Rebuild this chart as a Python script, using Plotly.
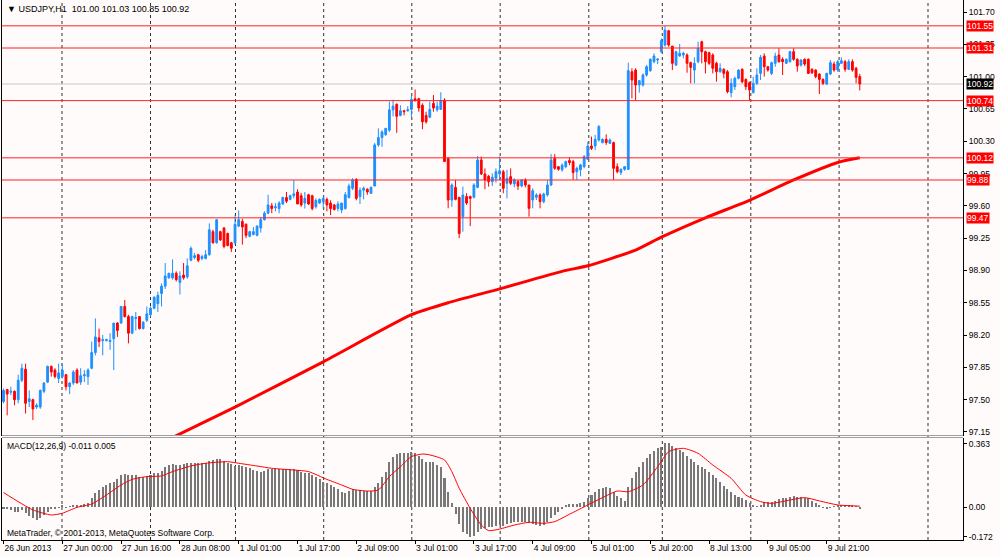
import plotly.graph_objects as go

# ---------------- DATA ----------------
opens = [
97.48, 97.61, 97.58, 97.59, 97.50, 97.71, 97.83, 97.48, 97.50, 97.42,
97.42, 97.59, 97.69, 97.86, 97.82, 97.73, 97.75, 97.77, 97.64, 97.68,
97.82, 97.69, 97.76, 97.75, 97.84, 98.01, 98.17, 98.14, 98.14, 98.13,
98.16, 98.33, 98.33, 98.51, 98.40, 98.22, 98.38, 98.40, 98.27, 98.36,
98.42, 98.49, 98.54, 98.65, 98.73, 98.82, 98.82, 98.87, 98.77, 98.85,
98.83, 99.01, 99.04, 99.07, 99.03, 99.03, 99.07, 99.32, 99.20, 99.32,
99.36, 99.30, 99.20, 99.20, 99.38, 99.43, 99.40, 99.27, 99.29, 99.28,
99.36, 99.45, 99.52, 99.60, 99.58, 99.57, 99.62, 99.69, 99.67, 99.71,
99.75, 99.71, 99.63, 99.72, 99.71, 99.59, 99.63, 99.645, 99.67, 99.63,
99.61, 99.57, 99.555, 99.57, 99.69, 99.79, 99.885, 99.70, 99.77, 99.78,
99.735, 99.815, 100.26, 100.34, 100.37, 100.42, 100.64, 100.70, 100.58, 100.63,
100.63, 100.645, 100.76, 100.76, 100.69, 100.58, 100.56, 100.71, 100.64, 100.645,
100.746, 100.115, 99.663, 99.80, 99.69, 99.483, 99.70, 99.70, 99.692, 99.80,
100.097, 99.945, 99.92, 99.862, 99.898, 99.945, 99.97, 99.844, 99.916, 99.837,
99.862, 99.815, 99.88, 99.826, 99.663, 99.692, 99.718, 99.645, 99.718, 99.826,
100.115, 100.024, 99.99, 100.024, 100.09, 100.079, 99.97, 99.99, 100.024, 100.104,
100.248, 100.248, 100.313, 100.285, 100.32, 100.277, 100.285, 100.024, 99.96, 99.996,
99.995, 101.053, 101.071, 100.909, 100.909, 101.017, 101.064, 101.162, 101.18, 101.27,
101.342, 101.497, 101.331, 101.126, 101.223, 101.234, 101.234, 101.151, 101.071, 101.162,
101.378, 101.27, 101.259, 101.234, 101.144, 101.053, 101.079, 101.053, 100.826, 100.891,
100.981, 101.079, 100.97, 100.934, 100.826, 100.927, 101.035, 101.223, 101.107, 101.035,
101.144, 101.234, 101.187, 101.144, 101.162, 101.27, 101.187, 101.126, 101.187, 101.187,
101.079, 101.071, 101.028, 100.97, 100.92, 101.028, 101.136, 101.071, 101.144, 101.162,
101.079, 101.162, 101.09, 101.00]

highs = [
97.62, 97.61, 97.64, 97.60, 97.77, 97.89, 97.89, 97.60, 97.51, 97.46,
97.61, 97.69, 97.87, 97.87, 97.84, 97.89, 97.89, 97.78, 97.69, 97.82,
97.84, 97.84, 97.82, 97.84, 98.13, 98.38, 98.27, 98.20, 98.16, 98.22,
98.33, 98.34, 98.51, 98.58, 98.42, 98.41, 98.45, 98.40, 98.35, 98.51,
98.51, 98.62, 98.67, 98.76, 98.98, 98.87, 99.02, 98.89, 98.89, 98.98,
99.03, 99.16, 99.09, 99.08, 99.07, 99.12, 99.41, 99.34, 99.45, 99.33,
99.37, 99.31, 99.21, 99.50, 99.55, 99.46, 99.41, 99.33, 99.37, 99.39,
99.48, 99.54, 99.72, 99.63, 99.63, 99.65, 99.70, 99.75, 99.72, 99.88,
99.78, 99.74, 99.75, 99.73, 99.72, 99.68, 99.68, 99.70, 99.69, 99.66,
99.62, 99.65, 99.63, 99.75, 99.84, 99.90, 99.90, 99.80, 99.81, 99.79,
99.81, 100.28, 100.44, 100.42, 100.44, 100.73, 100.75, 100.71, 100.69, 100.64,
100.68, 100.79, 100.86, 100.77, 100.71, 100.62, 100.73, 100.80, 100.73, 100.83,
100.765, 100.12, 99.844, 99.88, 99.70, 99.808, 99.736, 99.71, 99.844, 100.14,
100.133, 100.006, 99.934, 99.952, 100.006, 100.133, 99.99, 99.99, 100.006, 99.898,
99.88, 99.887, 99.898, 99.826, 99.79, 99.736, 99.736, 99.743, 99.88, 100.16,
100.16, 100.03, 100.06, 100.09, 100.126, 100.097, 100.024, 100.054, 100.151, 100.295,
100.35, 100.368, 100.476, 100.331, 100.375, 100.331, 100.295, 100.06, 100.006, 100.032,
101.151, 101.09, 101.09, 100.963, 101.035, 101.126, 101.198, 101.252, 101.198, 101.414,
101.548, 101.505, 101.331, 101.281, 101.353, 101.27, 101.252, 101.162, 101.209, 101.378,
101.389, 101.281, 101.27, 101.252, 101.162, 101.144, 101.09, 101.071, 100.981, 101.0,
101.079, 101.09, 100.981, 100.945, 100.999, 101.09, 101.234, 101.252, 101.115, 101.162,
101.259, 101.306, 101.209, 101.198, 101.281, 101.306, 101.198, 101.187, 101.198, 101.198,
101.09, 101.079, 101.035, 100.981, 101.042, 101.18, 101.162, 101.18, 101.209, 101.18,
101.187, 101.187, 101.107, 101.03]

lows = [
97.46, 97.33, 97.55, 97.44, 97.46, 97.69, 97.35, 97.42, 97.28, 97.40,
97.40, 97.57, 97.68, 97.75, 97.73, 97.68, 97.73, 97.60, 97.56, 97.66,
97.68, 97.66, 97.69, 97.66, 97.83, 97.98, 98.07, 97.98, 98.13, 98.04,
97.82, 98.18, 98.32, 98.39, 98.11, 98.21, 98.25, 98.26, 98.26, 98.34,
98.40, 98.48, 98.45, 98.51, 98.70, 98.81, 98.80, 98.78, 98.64, 98.80,
98.81, 99.00, 99.02, 98.99, 99.01, 99.02, 99.06, 99.19, 99.19, 99.22,
99.14, 99.16, 99.10, 99.18, 99.37, 99.18, 99.25, 99.26, 99.28, 99.27,
99.31, 99.44, 99.51, 99.52, 99.54, 99.52, 99.61, 99.63, 99.66, 99.68,
99.62, 99.59, 99.57, 99.61, 99.55, 99.57, 99.62, 99.57, 99.54, 99.50,
99.55, 99.54, 99.52, 99.56, 99.68, 99.77, 99.66, 99.62, 99.67, 99.72,
99.73, 99.81, 100.24, 100.24, 100.36, 100.40, 100.57, 100.39, 100.57, 100.58,
100.62, 100.56, 100.73, 100.62, 100.43, 100.49, 100.55, 100.62, 100.62, 100.64,
100.08, 99.573, 99.59, 99.66, 99.25, 99.32, 99.61, 99.38, 99.68, 99.79,
99.934, 99.78, 99.808, 99.815, 99.851, 99.88, 99.736, 99.68, 99.826, 99.80,
99.772, 99.80, 99.80, 99.483, 99.573, 99.663, 99.573, 99.627, 99.70, 99.815,
99.99, 99.98, 99.97, 100.006, 100.04, 99.88, 99.88, 99.92, 100.006, 100.097,
100.205, 100.205, 100.295, 100.277, 100.26, 100.27, 99.88, 99.952, 99.934, 99.98,
99.988, 100.764, 100.746, 100.826, 100.891, 101.0, 101.053, 101.144, 101.136, 101.259,
101.324, 101.324, 101.071, 101.115, 101.215, 101.198, 101.042, 100.927, 100.927, 101.144,
101.144, 101.035, 101.126, 101.035, 100.945, 101.042, 100.981, 100.819, 100.775, 100.855,
100.97, 100.927, 100.855, 100.746, 100.819, 100.909, 100.963, 101.0, 101.053, 101.017,
101.107, 101.151, 101.017, 101.136, 101.151, 101.172, 101.053, 101.107, 101.115, 101.028,
101.028, 100.981, 100.811, 100.909, 100.909, 101.017, 101.053, 101.053, 101.136, 101.053,
101.071, 101.053, 100.927, 100.85]

closes = [
97.60, 97.56, 97.59, 97.50, 97.71, 97.84, 97.46, 97.51, 97.40, 97.44,
97.60, 97.68, 97.86, 97.80, 97.75, 97.79, 97.82, 97.64, 97.68, 97.80,
97.68, 97.76, 97.77, 97.82, 98.01, 98.18, 98.13, 98.15, 98.15, 98.14,
98.33, 98.25, 98.51, 98.40, 98.22, 98.40, 98.39, 98.27, 98.34, 98.43,
98.49, 98.61, 98.63, 98.73, 98.84, 98.87, 98.87, 98.80, 98.84, 98.82,
98.95, 99.14, 99.06, 99.01, 99.05, 99.07, 99.34, 99.20, 99.45, 99.23,
99.16, 99.17, 99.14, 99.40, 99.45, 99.37, 99.28, 99.32, 99.32, 99.38,
99.45, 99.52, 99.61, 99.57, 99.59, 99.63, 99.69, 99.65, 99.71, 99.73,
99.62, 99.61, 99.68, 99.62, 99.57, 99.66, 99.67, 99.68, 99.61, 99.57,
99.56, 99.62, 99.63, 99.72, 99.815, 99.88, 99.68, 99.77, 99.79, 99.75,
99.80, 100.26, 100.34, 100.40, 100.44, 100.64, 100.68, 100.57, 100.63, 100.62,
100.64, 100.75, 100.74, 100.66, 100.51, 100.51, 100.645, 100.66, 100.68, 100.74,
100.08, 99.663, 99.826, 99.67, 99.30, 99.718, 99.63, 99.68, 99.826, 100.097,
99.945, 99.88, 99.862, 99.909, 99.97, 99.98, 99.79, 99.898, 99.844, 99.88,
99.815, 99.88, 99.826, 99.573, 99.764, 99.718, 99.645, 99.728, 99.826, 100.097,
100.006, 99.996, 100.04, 100.079, 100.068, 99.96, 100.006, 100.043, 100.133, 100.248,
100.223, 100.32, 100.458, 100.32, 100.285, 100.313, 100.006, 99.97, 99.996, 100.024,
101.064, 100.963, 100.909, 100.956, 101.017, 101.107, 101.187, 101.223, 101.19, 101.389,
101.505, 101.342, 101.144, 101.27, 101.252, 101.252, 101.144, 101.10, 101.144, 101.306,
101.27, 101.162, 101.144, 101.09, 101.053, 101.09, 101.035, 100.837, 100.927, 100.981,
101.071, 100.945, 100.891, 100.855, 100.927, 101.017, 101.209, 101.107, 101.071, 101.151,
101.223, 101.162, 101.162, 101.187, 101.27, 101.187, 101.115, 101.18, 101.136, 101.035,
101.042, 100.999, 100.97, 100.927, 101.035, 101.151, 101.071, 101.162, 101.172, 101.079,
101.162, 101.071, 100.992, 100.92]

# moving average (read at a few bars)
ma_bars = [46, 63, 87, 111, 121, 135, 152, 159, 172, 179, 191, 203, 215, 227, 233]
ma_vals = [97.09, 97.42, 97.91, 98.42, 98.55, 98.70, 98.89, 98.95, 99.12, 99.26,
           99.47, 99.66, 99.88, 100.07, 100.12]

# MACD main histogram (one value per bar)
macd_hist = [
-0.008, -0.013, -0.02, -0.03, -0.027, -0.02, -0.035, -0.05, -0.065, -0.075,
-0.065, -0.046, -0.027, -0.013, -0.008, -0.002, 0.006, -0.002, 0.002, 0.006,
0.01, 0.012, 0.017, 0.025, 0.05, 0.079, 0.098, 0.117, 0.127, 0.136,
0.146, 0.159, 0.184, 0.19, 0.184, 0.184, 0.184, 0.175, 0.175, 0.179,
0.184, 0.194, 0.198, 0.209, 0.228, 0.242, 0.248, 0.242, 0.242, 0.248,
0.252, 0.255, 0.252, 0.252, 0.252, 0.255, 0.267, 0.271, 0.275, 0.275,
0.267, 0.255, 0.248, 0.236, 0.242, 0.236, 0.228, 0.223, 0.213, 0.209,
0.204, 0.209, 0.217, 0.217, 0.217, 0.217, 0.217, 0.217, 0.217, 0.217,
0.213, 0.204, 0.198, 0.194, 0.184, 0.171, 0.159, 0.146, 0.136, 0.127,
0.113, 0.102, 0.088, 0.083, 0.094, 0.102, 0.098, 0.098, 0.094, 0.094,
0.094, 0.113, 0.140, 0.175, 0.204, 0.261, 0.29, 0.305, 0.313, 0.313,
0.313, 0.319, 0.309, 0.294, 0.275, 0.261, 0.261, 0.257, 0.242, 0.232,
0.165, 0.088, 0.021, -0.042, -0.10, -0.142, -0.157, -0.171, -0.165, -0.142,
-0.127, -0.119, -0.113, -0.113, -0.108, -0.104, -0.108, -0.10, -0.094, -0.088,
-0.088, -0.088, -0.088, -0.094, -0.10, -0.104, -0.108, -0.104, -0.088, -0.065,
-0.046, -0.031, -0.012, 0.008, 0.017, 0.017, 0.017, 0.021, 0.031, 0.054,
0.069, 0.084, 0.104, 0.111, 0.117, 0.111, 0.084, 0.065, 0.05, 0.035,
0.117, 0.169, 0.204, 0.232, 0.261, 0.284, 0.303, 0.323, 0.338, 0.348,
0.367, 0.367, 0.353, 0.338, 0.328, 0.315, 0.296, 0.277, 0.257, 0.242,
0.232, 0.219, 0.204, 0.184, 0.169, 0.146, 0.123, 0.104, 0.084, 0.069,
0.06, 0.05, 0.04, 0.021, 0.012, 0.004, 0.008, 0.027, 0.031, 0.031,
0.035, 0.046, 0.05, 0.054, 0.06, 0.063, 0.06, 0.06, 0.054, 0.05,
0.035, 0.021, 0.008, -0.004, -0.008, -0.004, 0.002, 0.008, 0.012, 0.012,
0.012, 0.008, 0.002, -0.011]

# MACD signal line (read at a set of bars)
sig_bars = [0, 4, 8, 13, 16, 20, 24, 28, 32, 35, 39, 43, 46, 51, 55, 61, 64, 69, 73, 79,
            83, 88, 92, 95, 99, 102, 105, 108, 111, 114, 116, 120, 122, 124, 127, 130,
            132, 135, 139, 143, 147, 150, 154, 159, 163, 167, 170, 174, 178, 181, 185,
            189, 193, 198, 202, 206, 209, 214, 218, 222, 227, 233]
sig_vals = [0.083, 0.031, -0.017, -0.046, -0.036, -0.002, 0.017, 0.069, 0.127, 0.159,
            0.175, 0.179, 0.204, 0.236, 0.252, 0.261, 0.252, 0.236, 0.223, 0.213,
            0.204, 0.159, 0.127, 0.102, 0.092, 0.098, 0.175, 0.232, 0.29, 0.305,
            0.30, 0.271, 0.204, 0.108, -0.008, -0.104, -0.136, -0.127, -0.104, -0.088,
            -0.094, -0.084, -0.042, 0.012, 0.054, 0.092, 0.088, 0.127, 0.232, 0.319,
            0.338, 0.309, 0.242, 0.165, 0.069, 0.031, 0.021, 0.04, 0.054, 0.035,
            0.012, 0.005]

time_label_bars = [0, 16, 32, 48, 64, 80, 96, 112, 128, 144, 160, 176, 192, 208, 224]
time_labels = ["26 Jun 2013", "27 Jun 00:00", "27 Jun 16:00", "28 Jun 08:00", "1 Jul 01:00",
               "1 Jul 17:00", "2 Jul 09:00", "3 Jul 01:00", "3 Jul 17:00", "4 Jul 09:00",
               "5 Jul 01:00", "5 Jul 20:00", "8 Jul 13:00", "9 Jul 05:00", "9 Jul 21:00"]

price_ticks = [101.70, 101.35, 101.00, 100.65, 100.30, 99.95, 99.60, 99.25, 98.90,
               98.55, 98.20, 97.85, 97.50, 97.15]
level_lines = [101.55, 101.31, 100.74, 100.12, 99.88, 99.47]
bid_price = 100.92
macd_ticks = [0.363, 0.0, -0.172]
macd_tick_text = ["0.363", "0.00", "-0.172"]

# ---------------- LAYOUT GEOMETRY ----------------
W, H = 1000, 557
ML, MR, MT, MB = 2, 37, 0, 17
PW, PH = W - ML - MR, H - MT - MB
BAR0_PX, BAR_PX = 3.5, 3.675
x_lo = (ML - BAR0_PX) / BAR_PX
x_hi = (ML + PW - BAR0_PX) / BAR_PX
grid_px = [62, 150.5, 235.5, 323.7, 411.8, 500.2, 588.8, 662.3, 750.8, 839.1, 928]
grid_x = [(g - BAR0_PX) / BAR_PX for g in grid_px]


def px_x(px):
    return (px - ML) / PW


def px_y(py):
    return 1 - (py - MT) / PH


MAIN_BOTTOM, MACD_TOP = 436, 438
price_top = 101.70 + 12 / 92.3
price_bot = 101.70 - (MAIN_BOTTOM - 12) / 92.3
macd_top = (507 - MACD_TOP) / 173.6
macd_bot = (507 - 540) / 173.6

BG = "#FFFBFA"
FONT = "Liberation Sans"
FS = 8.5
idx = list(range(len(closes)))

fig = go.Figure()
fig.add_trace(go.Candlestick(
    x=idx, open=opens, high=highs, low=lows, close=closes,
    increasing=dict(line=dict(color="#1E90FF", width=1), fillcolor="#1E90FF"),
    decreasing=dict(line=dict(color="#FF0000", width=1), fillcolor="#FF0000"),
    whiskerwidth=0, xaxis="x", yaxis="y", showlegend=False, hoverinfo="skip"))
fig.add_trace(go.Scatter(x=ma_bars, y=ma_vals, mode="lines",
                         line=dict(color="#FF0000", width=3, shape="spline", smoothing=0.5),
                         xaxis="x", yaxis="y", showlegend=False, hoverinfo="skip"))
fig.add_trace(go.Bar(x=idx, y=macd_hist, marker=dict(color="#787878", line=dict(width=0)),
                     width=0.55, xaxis="x2", yaxis="y2", showlegend=False, hoverinfo="skip"))
fig.add_trace(go.Scatter(x=sig_bars, y=sig_vals, mode="lines",
                         line=dict(color="#FF0000", width=1, shape="spline", smoothing=0.6),
                         xaxis="x2", yaxis="y2", showlegend=False, hoverinfo="skip"))

shapes = []
for gx in grid_x:
    shapes.append(dict(type="line", xref="x", yref="paper", x0=gx, x1=gx, y0=0, y1=1,
                       line=dict(color="#303030", width=1, dash="3px,3px"), layer="below"))
shapes.append(dict(type="line", xref="paper", yref="y", x0=0, x1=1, y0=bid_price, y1=bid_price,
                   line=dict(color="#C8C8C8", width=1), layer="below"))
for lv in level_lines:
    shapes.append(dict(type="line", xref="paper", yref="y", x0=0, x1=1, y0=lv, y1=lv,
                       line=dict(color="#FF2020", width=1), layer="above"))
# panel separator lines
for py in (435.5, 437.5):
    shapes.append(dict(type="line", xref="paper", yref="paper", x0=0, x1=1, y0=px_y(py), y1=px_y(py),
                       line=dict(color="#A0A0A0", width=1)))

annotations = []
for lv in level_lines:
    annotations.append(dict(xref="paper", yref="y", x=px_x(966), y=lv, xanchor="left", yanchor="middle",
                            text=f"{lv:.2f}", showarrow=False, bgcolor="#FF0000", borderpad=0,
                            font=dict(family=FONT, size=FS, color="white")))
annotations.append(dict(xref="paper", yref="y", x=px_x(966), y=bid_price, xanchor="left", yanchor="middle",
                        text=f"{bid_price:.2f}", showarrow=False, bgcolor="#000000", borderpad=0,
                        font=dict(family=FONT, size=FS, color="white")))
annotations.append(dict(xref="paper", yref="paper", x=px_x(5), y=px_y(9), xanchor="left", yanchor="middle",
                        text="▼ USDJPY,H1  101.00 101.03 100.85 100.92", showarrow=False,
                        font=dict(family=FONT, size=FS + 0.5, color="black")))
annotations.append(dict(xref="paper", yref="paper", x=px_x(5), y=px_y(446), xanchor="left", yanchor="middle",
                        text="MACD(12,26,9) -0.011 0.005", showarrow=False,
                        font=dict(family=FONT, size=FS, color="black")))
annotations.append(dict(xref="paper", yref="paper", x=px_x(5), y=px_y(533), xanchor="left", yanchor="middle",
                        text="MetaTrader, © 2001-2013, MetaQuotes Software Corp.", showarrow=False,
                        font=dict(family=FONT, size=FS, color="black")))

axis_font = dict(family=FONT, size=FS, color="black")
fig.update_layout(
    width=W, height=H, margin=dict(l=ML, r=MR, t=MT, b=MB),
    paper_bgcolor=BG, plot_bgcolor=BG, bargap=0, showlegend=False,
    shapes=shapes, annotations=annotations,
    xaxis=dict(domain=[0, 1], anchor="y", range=[x_lo, x_hi], showgrid=False, zeroline=False,
               showticklabels=False, ticks="", rangeslider=dict(visible=False), showline=False),
    yaxis=dict(domain=[px_y(MAIN_BOTTOM), 1], anchor="x", side="right", range=[price_bot, price_top],
               tickvals=price_ticks, ticktext=[f"{t:.2f}" for t in price_ticks],
               ticks="outside", ticklen=3, tickcolor="black", tickfont=axis_font,
               showgrid=False, zeroline=False, showline=True, linecolor="black", linewidth=1, mirror=True),
    xaxis2=dict(domain=[0, 1], anchor="y2", matches="x", range=[x_lo, x_hi], showgrid=False, zeroline=False,
                tickvals=time_label_bars, ticktext=time_labels, ticks="outside", ticklen=3,
                tickcolor="black", tickfont=axis_font, ticklabelposition="outside right",
                showline=True, linecolor="black", linewidth=1),
    yaxis2=dict(domain=[0, px_y(MACD_TOP)], anchor="x2", side="right", range=[macd_bot, macd_top],
                tickvals=macd_ticks, ticktext=macd_tick_text, ticks="outside", ticklen=3,
                tickcolor="black", tickfont=axis_font, showgrid=False, zeroline=False,
                showline=True, linecolor="black", linewidth=1, mirror=True),
)
fig.write_html("out.html", config={"displayModeBar": False},
               post_script="document.body.style.margin='0';document.body.style.background='#FFFBFA';")
